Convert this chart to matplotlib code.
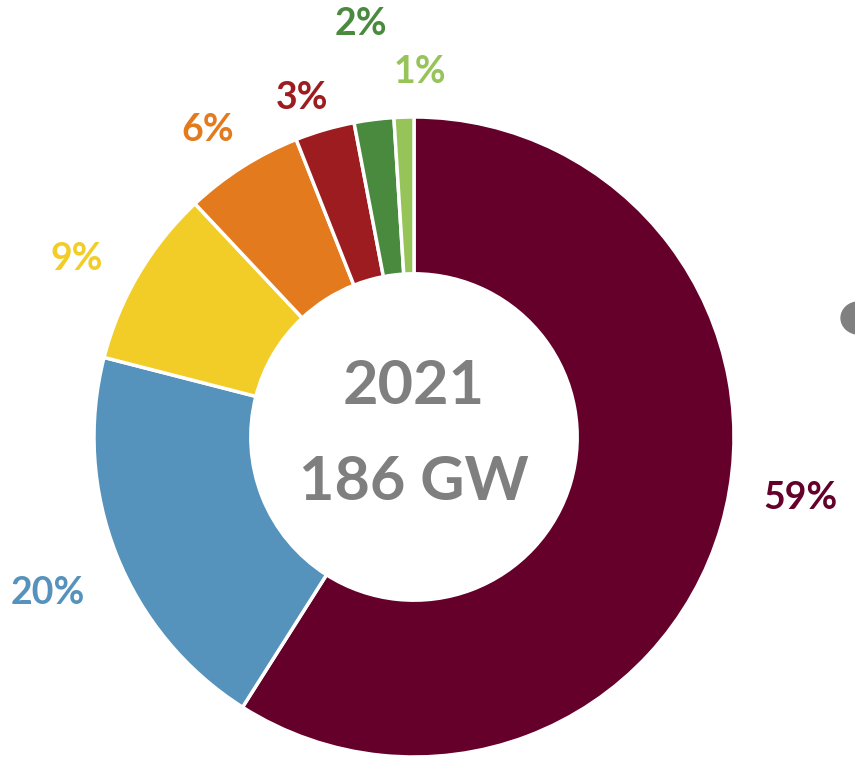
import matplotlib.pyplot as plt
from matplotlib.patches import Circle

shares = [59, 20, 9, 6, 3, 2, 1]
labels = ['59%', '20%', '9%', '6%', '3%', '2%', '1%']
colors = ['#65002B', '#5592BC', '#F2CD28', '#E47A1E', '#9C1C20', '#4A8A3E', '#96C459']
center_lines = ['2021', '186 GW']

# label spots, in units of the outer radius
label_pos = [(1.207, -0.19), (-1.143, -0.487), (-1.053, 0.556), (-0.645, 0.96),
             (-0.35, 1.06), (-0.166, 1.29), (0.019, 1.14)]

plt.rcParams['font.family'] = ['Lato', 'DejaVu Sans']

fig = plt.figure(figsize=(8.55, 7.69), dpi=100)
R = 320
ax = fig.add_axes([(414 - R) / 855, (332 - R) / 769, 2 * R / 855, 2 * R / 769])

ax.pie(shares, colors=colors, startangle=90, counterclock=False, radius=1,
       wedgeprops=dict(width=0.49, edgecolor='white', linewidth=2.5))

for (x, y), text, color in zip(label_pos, labels, colors):
    ax.text(x, y, text, ha='center', va='center', fontsize=27,
            fontweight='bold', color=color)

ax.text(0, 0.16, center_lines[0], ha='center', va='center', fontsize=44,
        fontweight='bold', color='#7F7F7F')
ax.text(0, -0.14, center_lines[1], ha='center', va='center', fontsize=44,
        fontweight='bold', color='#7F7F7F')

ax.set_xlim(-1, 1)
ax.set_ylim(-1, 1)
ax.set_aspect('equal')
ax.axis('off')

# grey blob poking in from the neighbouring chart
fig.patches.append(Circle((859 / 855, 1 - 318 / 769), 0.021, transform=fig.transFigure,
                          color='#808080', clip_on=False))

fig.savefig('out.png', dpi=100)
